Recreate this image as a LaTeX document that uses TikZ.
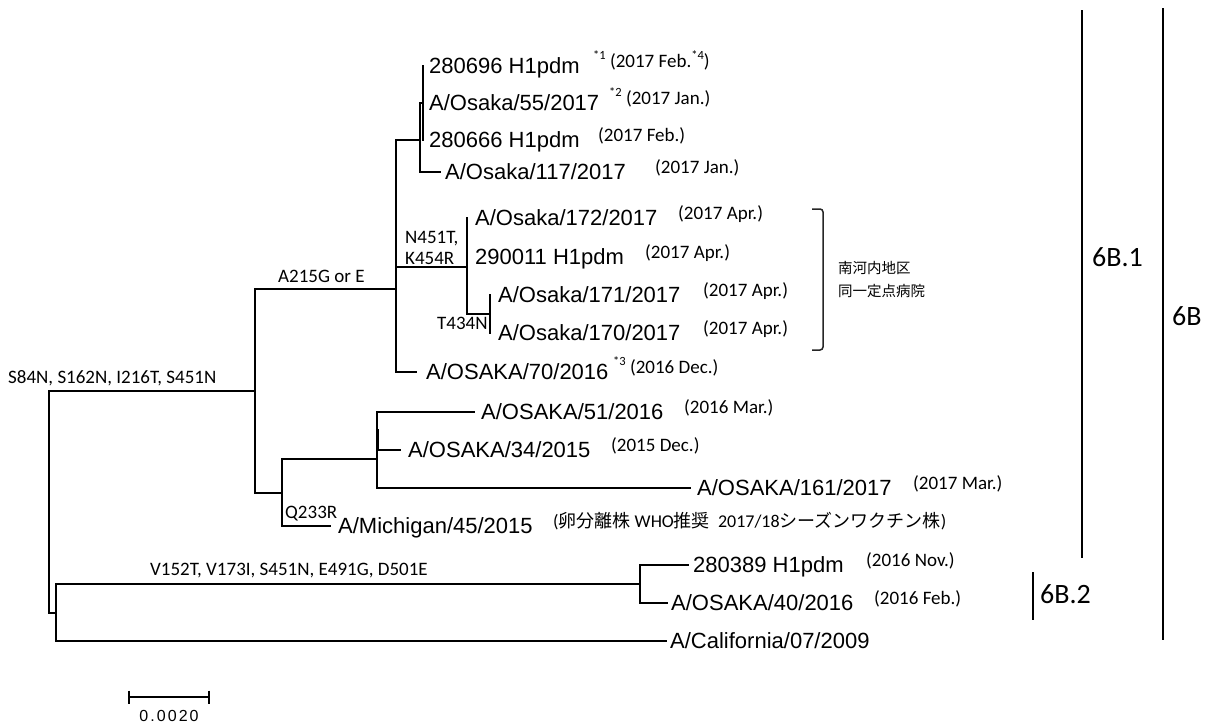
\documentclass[tikz,border=0pt]{standalone}
\usepackage{fontspec}
\setmainfont{Carlito}
\newfontfamily\leaffont{Liberation Sans}
\newfontfamily\scalefont[LetterSpace=13]{Liberation Sans}
\newfontfamily\cjk{Noto Sans CJK JP}
\newcommand\supx[1]{\raisebox{0.42em}{\fontsize{12.5}{12.5}\selectfont #1}}
\tikzset{
  br/.style={line width=1.6pt, line join=miter, line cap=rect, black},
  leaf/.style={anchor=west, inner sep=0pt, font=\leaffont\fontsize{22}{24}\selectfont, text height=15.75pt, text depth=0pt},
  date/.style={anchor=base west, inner sep=0pt, font=\fontsize{19}{21}\selectfont},
  mut/.style={anchor=west, inner sep=0pt, font=\fontsize{19}{21}\selectfont},
  clade/.style={anchor=west, inner sep=0pt, font=\fontsize{28}{30}\selectfont},
  cbar/.style={line width=2.2pt, black},
  brk/.style={line width=1.5pt, black!85, rounded corners=3pt},
  jp/.style={anchor=west, inner sep=0pt, font=\cjk\fontsize{14.5}{16}\selectfont}
}
\begin{document}
\begin{tikzpicture}[x=1pt,y=-1pt]
\useasboundingbox (0,0) rectangle (1226,726);
% internal nodes
\coordinate (R) at (49,502);
\coordinate (E) at (255,391);
\coordinate (H) at (56,613);
\coordinate (P) at (396,289);
\coordinate (F) at (282,493);
\coordinate (A) at (420,140);
\coordinate (B) at (423,103);
\coordinate (C) at (467,267);
\coordinate (D) at (490,314);
\coordinate (G) at (377,459);
\coordinate (G2) at (378.6,430);
\coordinate (I) at (640,584);
% leaves
\node[leaf] (l1) at (429,66) {280696 H1pdm};
\node[leaf] (l2) at (429,103) {A/Osaka/55/2017};
\node[leaf] (l3) at (429,140) {280666 H1pdm};
\node[leaf] (l4) at (445,172) {A/Osaka/117/2017};
\node[leaf] (l5) at (475,218) {A/Osaka/172/2017};
\node[leaf] (l6) at (475,257) {290011 H1pdm};
\node[leaf] (l7) at (498,295) {A/Osaka/171/2017};
\node[leaf] (l8) at (498,333) {A/Osaka/170/2017};
\node[leaf] (l9) at (426,372) {A/OSAKA/70/2016};
\node[leaf] (l10) at (481,412) {A/OSAKA/51/2016};
\node[leaf] (l11) at (408,450) {A/OSAKA/34/2015};
\node[leaf] (l12) at (697,488) {A/OSAKA/161/2017};
\node[leaf] (l13) at (338,526) {A/Michigan/45/2015};
\node[leaf] (l14) at (693,565) {280389 H1pdm};
\node[leaf] (l15) at (671,603) {A/OSAKA/40/2016};
\node[leaf] (l16) at (670,641) {A/California/07/2009};
% root
\draw[br] (R |- E) -- (R |- H);
\draw[br] (R |- E) -- (E);
\draw[br] (R |- H) -- (H);
% H
\draw[br] (H |- I) -- (H |- l16);
\draw[br] (H |- I) -- (I);
\draw[br] (H |- l16) -- ([xshift=-4pt]l16.west);
% I
\draw[br] (I |- l14) -- (I |- l15);
\draw[br] (I |- l14) -- ([xshift=-5pt]l14.west);
\draw[br] (I |- l15) -- ([xshift=-4pt]l15.west);
% E
\draw[br] (E |- P) -- (E |- F);
\draw[br] (E |- P) -- (P);
\draw[br] (E |- F) -- (F);
% F
\draw[br] (F |- G) -- (F |- l13);
\draw[br] (F |- G) -- (G);
\draw[br] (F |- l13) -- ([xshift=-8pt]l13.west);
% G
\draw[br] (G |- l10) -- (G |- l12);
\draw[br] (G2) -- (G2 |- l11);
\draw[br] (G |- l10) -- ([xshift=-7pt]l10.west);
\draw[br] (G |- l11) -- ([xshift=-8pt]l11.west);
\draw[br] (G |- l12) -- ([xshift=-7pt]l12.west);
% P
\draw[br] (P |- A) -- (P |- l9);
\draw[br] (P |- A) -- (A);
\draw[br] (P |- l9) -- ([xshift=-10pt]l9.west);
\draw[br] (P |- C) -- (C);
% A, B
\draw[br] (A |- B) -- (A |- l4);
\draw[br] (A |- B) -- (B);
\draw[br] (A |- l4) -- ([xshift=-5pt]l4.west);
\draw[br] (B |- l1) -- (B |- l3);
% C, D
\draw[br] (C |- l5) -- (C |- D);
\draw[br] (C |- D) -- (D);
\draw[br] (D |- l7) -- (D |- l8);
% dates
\node[date] (d1) at (593,67) {\supx{*1} (2017 Feb.\supx{*4})};
\node[date] (d2) at (609,104) {\supx{*2} (2017 Jan.)};
\node[date] (d3) at (598,141) {(2017 Feb.)};
\node[date] (d4) at (655,173) {(2017 Jan.)};
\node[date] (d5) at (678,219) {(2017 Apr.)};
\node[date] (d6) at (645,258) {(2017 Apr.)};
\node[date] (d7) at (703,296) {(2017 Apr.)};
\node[date] (d8) at (703,334) {(2017 Apr.)};
\node[date] (d9) at (613,373) {\supx{*3} (2016 Dec.)};
\node[date] (d10) at (684,413) {(2016 Mar.)};
\node[date] (d11) at (611,451) {(2015 Dec.)};
\node[date] (d12) at (913,489) {(2017 Mar.)};
\node[date, font=\fontsize{18}{20}\selectfont] (d13) at (553,527) {({\cjk 卵分離株} WHO{\cjk 推奨}\ \ 2017/18{\cjk シーズンワクチン株})};
\node[date] (d14) at (866,566) {(2016 Nov.)};
\node[date] (d15) at (874,604) {(2016 Feb.)};
% mutations
\node[mut] (m1) at (8,378) {S84N, S162N, I216T, S451N};
\node[mut] (m2) at (278,276) {A215G or E};
\node[mut] (m3) at (405,239) {N451T,};
\node[mut] (m4) at (405,258) {K454R};
\node[mut] (m5) at (437,323) {T434N};
\node[mut] (m6) at (285,514) {Q233R};
\node[mut] (m7) at (150,571) {V152T, V173I, S451N, E491G, D501E};
% bracket
\coordinate (k1) at (812,209);
\coordinate (k2) at (823,209);
\coordinate (k3) at (823,350);
\coordinate (k4) at (812,350);
\draw[brk] (k1) -- (k2) -- (k3) -- (k4);
\node[jp] (j1) at (838,268) {南河内地区};
\node[jp] (j2) at (838,291) {同一定点病院};
% clade bars
\coordinate (c1t) at (1082,10);
\coordinate (c1b) at (1082,558);
\coordinate (c2t) at (1163,8);
\coordinate (c2b) at (1163,640);
\coordinate (c3t) at (1033,572);
\coordinate (c3b) at (1033,620);
\draw[cbar] (c1t) -- (c1b);
\draw[cbar] (c2t) -- (c2b);
\draw[cbar] (c3t) -- (c3b);
\node[clade] (t1) at (1092,257) {6B.1};
\node[clade] (t2) at (1172,316) {6B};
\node[clade] (t3) at (1040,594) {6B.2};
% scale bar
\coordinate (s1) at (129,697);
\coordinate (s2) at (209,697);
\draw[br, line cap=butt] (s1) -- (s2);
\draw[br, line cap=butt] ([yshift=6.5pt]s1) -- ([yshift=-6.5pt]s1);
\draw[br, line cap=butt] ([yshift=6.5pt]s2) -- ([yshift=-6.5pt]s2);
\node[anchor=center, inner sep=0pt, font=\scalefont\fontsize{16}{18}\selectfont] (sl) at (169,716) {0.0020};
\end{tikzpicture}
\end{document}
